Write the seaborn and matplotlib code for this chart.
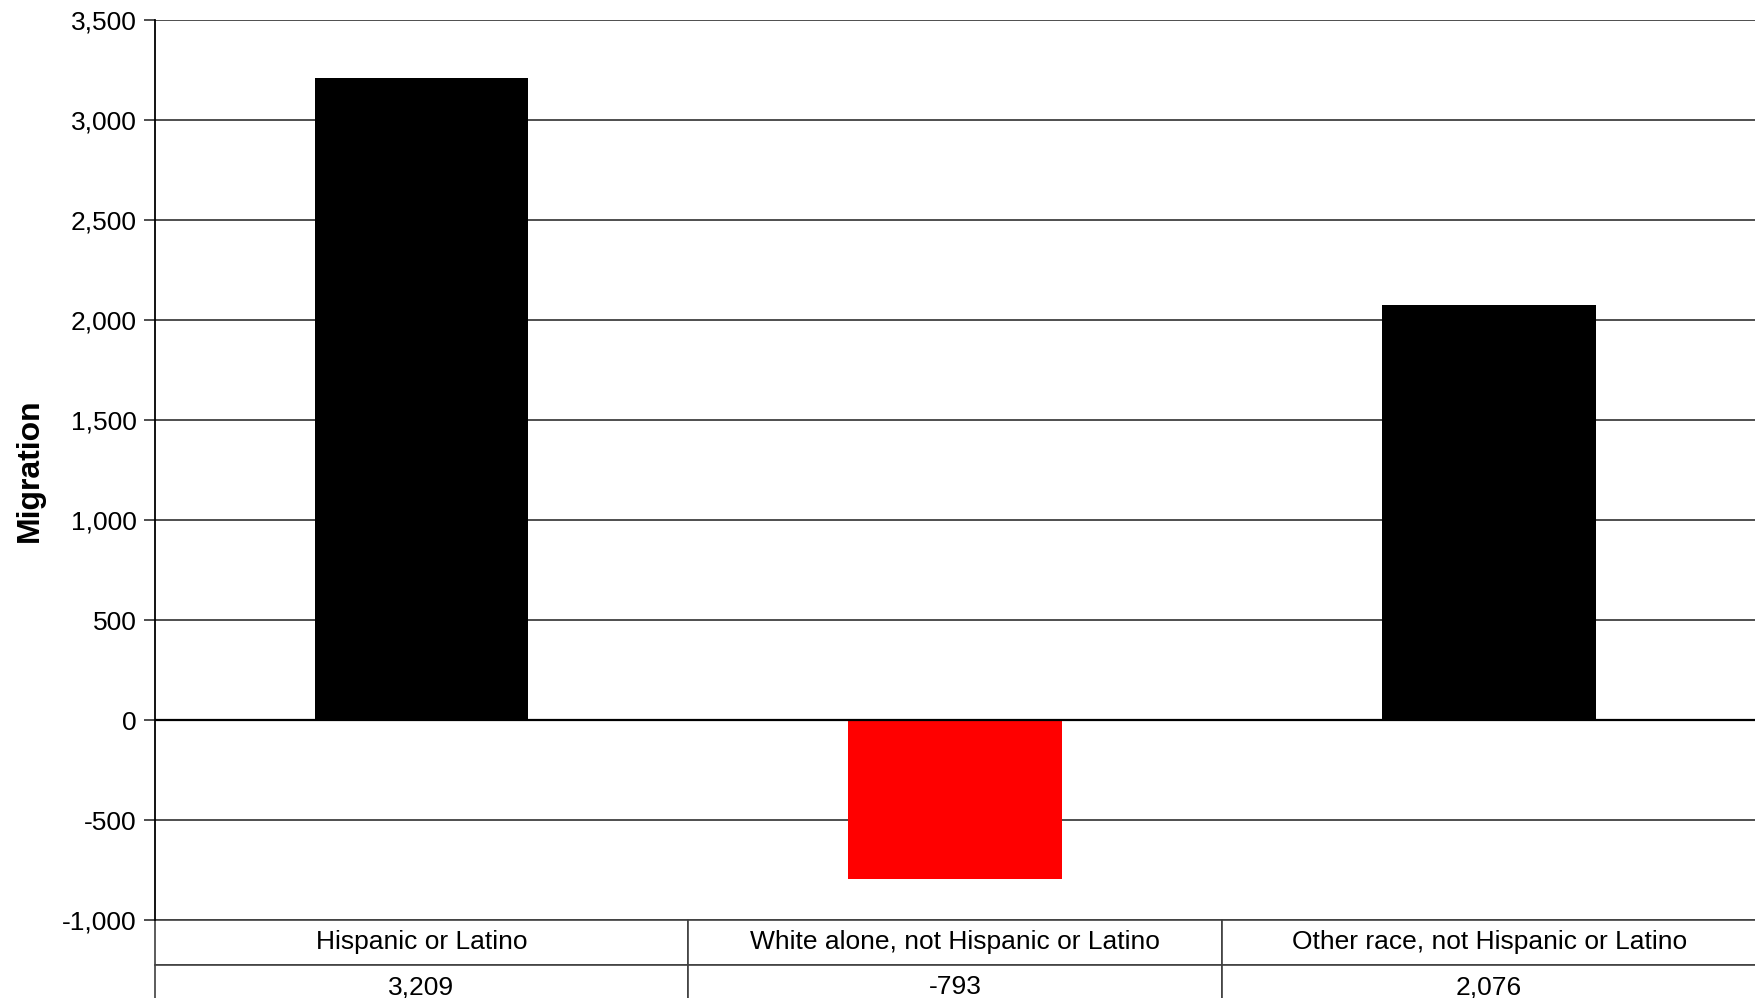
import numpy as np
import pandas as pd
import matplotlib
matplotlib.use("Agg")
import matplotlib.pyplot as plt
import seaborn as sns
from matplotlib.ticker import FuncFormatter

# data
categories = ["Hispanic or Latino",
              "White alone, not Hispanic or Latino",
              "Other race, not Hispanic or Latino"]
migration = [3209, -793, 2076]
value_labels = ["3,209", "-793", "2,076"]
bar_colors = ["#000000", "#ff0000", "#000000"]

sns.set_style("white")
plt.rcParams['font.family'] = ['Liberation Sans', 'DejaVu Sans']
plt.rcParams['text.color'] = 'black'
plt.rcParams['axes.labelcolor'] = 'black'
plt.rcParams['ytick.labelcolor'] = 'black'

df = pd.DataFrame({"cat": categories, "val": migration})

fig = plt.figure(figsize=(17.55, 9.98), dpi=100)
W, H = 1755.0, 998.0
ax = fig.add_axes([154.5 / W, (H - 920) / H, (1756 - 154.5) / W, 900 / H])

sns.barplot(data=df, x="cat", y="val", hue="cat", palette=bar_colors,
            width=0.4, saturation=1, legend=False, ax=ax, zorder=3,
            linewidth=0)

ax.set_ylim(-1000, 3500)
ax.set_xlim(-0.5, 2.5)
ax.set_yticks(np.arange(-1000, 3501, 500))
ax.yaxis.set_major_formatter(FuncFormatter(lambda v, p: f"{int(v):,}"))
ax.yaxis.grid(True, color="#404040", linewidth=1.3, zorder=0)
ax.axhline(0, color="black", linewidth=1.6, zorder=4)

for s in ["top", "right", "bottom"]:
    ax.spines[s].set_visible(False)
ax.spines["left"].set_color("black")
ax.spines["left"].set_linewidth(1.3)

ax.tick_params(axis="y", direction="out", length=8, width=1.3, color="#404040",
               labelsize=19, pad=5, left=True, labelcolor="black")
ax.tick_params(axis="x", bottom=False, labelbottom=False)
ax.set_xlabel("")
ax.set_ylabel("Migration", fontsize=23, fontweight="bold", labelpad=12,
              color="black")

# data table under the axis
tbl = ax.table(cellText=[categories, value_labels], cellLoc="center",
               bbox=[0, -90 / 900, 1, 90 / 900])
tbl.auto_set_font_size(False)
tbl.set_fontsize(19)
for (r, c), cell in tbl.get_celld().items():
    cell.set_edgecolor("#404040")
    cell.set_linewidth(1.2)
    cell.set_facecolor("white")
    cell.get_text().set_color("black")

fig.savefig("out.png", dpi=100)
